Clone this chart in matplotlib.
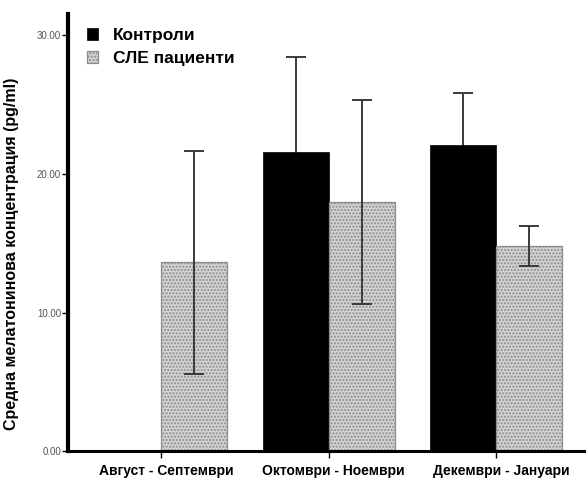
import matplotlib
matplotlib.use("Agg")
import matplotlib.pyplot as plt
import matplotlib.transforms as mtransforms
import numpy as np

plt.rcParams['font.family'] = ['Liberation Sans', 'DejaVu Sans']

categories = ["Август - Септември", "Октомври - Ноември", "Декември - Јануари"]
series_names = ["Контроли", "СЛЕ пациенти"]
controls = [0.0, 21.6, 22.1]
controls_err = [np.nan, 6.87, 3.77]
patients = [13.63, 18.0, 14.8]
patients_err = [8.05, 7.36, 1.42]
yticks = [0, 10, 20, 30]

W, H = 586, 478
fig = plt.figure(figsize=(W/100, H/100), dpi=100)
ax = fig.add_axes([68/W, 1-451.4/H, 1-68/W, (451.4-14)/H])

x = np.arange(len(categories))
w = 0.394
ekw = dict(ecolor='#3a3a3a', elinewidth=1.4, capsize=7, capthick=1.4)
ax.errorbar(x - w/2, controls, yerr=controls_err, fmt='none', zorder=1, **ekw)
ax.bar(x - w/2, controls, w, color='black', edgecolor='black', linewidth=0.5,
       label=series_names[0], zorder=2)
ax.bar(x + w/2, patients, w, color='#d2d2d2', edgecolor='#8c8c8c', hatch='.....',
       linewidth=0.9, label=series_names[1], zorder=2)
ax.errorbar(x + w/2, patients, yerr=patients_err, fmt='none', zorder=3, **ekw)

ax.set_xlim(-0.555, 2.537)
ax.set_ylim(0, 31.54)
ax.set_yticks(yticks)
ax.set_yticklabels([f"{v:.2f}" for v in yticks], fontsize=7, color='#555555')
ax.set_xticks(x)
ax.set_xticklabels(categories, fontsize=10, fontweight='bold')
ax.tick_params(axis='y', length=4, width=1, pad=1)
ax.tick_params(axis='x', length=5, width=1, pad=4)
offset = mtransforms.ScaledTranslation(5/100, 0, fig.dpi_scale_trans)
for lbl in ax.get_xticklabels():
    lbl.set_transform(lbl.get_transform() + offset)
for s in ['top', 'right']:
    ax.spines[s].set_visible(False)
ax.spines['left'].set_linewidth(3)
ax.spines['bottom'].set_linewidth(2.2)
ax.set_ylabel("Средна мелатонинова концентрация (pg/ml)", fontsize=11.5,
              fontweight='bold')
ax.yaxis.set_label_coords(19/W, 1-254/H, transform=fig.transFigure)

leg = ax.legend(loc='upper left', bbox_to_anchor=(87/W, 1-28/H),
                bbox_transform=fig.transFigure, frameon=False, borderpad=0,
                borderaxespad=0,
                prop={'weight': 'bold', 'size': 12.5}, handlelength=0.65,
                handleheight=0.65, handletextpad=0.85, labelspacing=0.45)

fig.savefig("out.png", dpi=100)
